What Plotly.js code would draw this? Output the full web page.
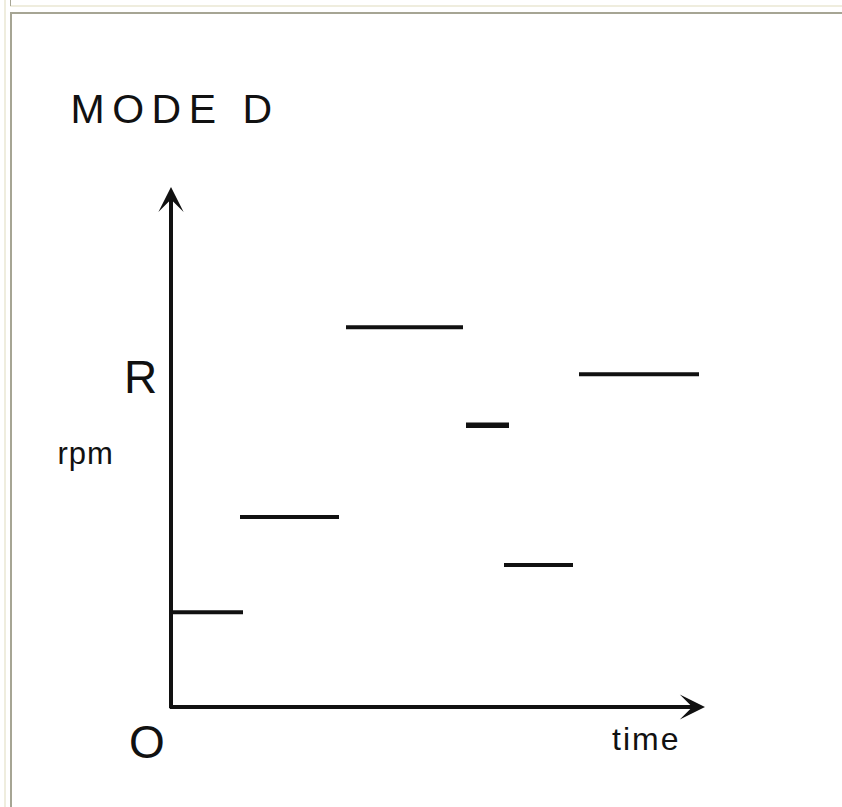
<!DOCTYPE html>
<html>
<head>
<meta charset="utf-8">
<script src="https://cdn.plot.ly/plotly-3.0.1.min.js"></script>
<style>
  html, body { margin: 0; padding: 0; background: #fff; }
  #wrap { position: relative; width: 842px; height: 807px; overflow: hidden; }
  #plot { position: absolute; left: 0; top: 0; }
  .frame { position: absolute; pointer-events: none; }
  /* title and axis words are drawn wider in the original */
  g.annotation[data-index="0"] text { letter-spacing: 7.5px; }
  g.annotation[data-index="4"] text { letter-spacing: 2px; }
  g.annotation[data-index="2"] text { letter-spacing: 1px; }
</style>
</head>
<body>
<div id="wrap">
  <div class="frame" style="left:4px;top:0;width:2px;height:807px;background:#efedde;"></div>
  <div class="frame" style="left:10px;top:5px;right:0;height:2px;background:#efedde;"></div>
  <div class="frame" style="left:10px;top:0;width:1px;height:6px;background:#a6a594;"></div>
  <div class="frame" style="left:10px;top:12px;right:0;height:2px;background:#a6a594;"></div>
  <div class="frame" style="left:10px;top:12px;width:2px;bottom:0;background:#a6a594;"></div>
  <div id="plot"></div>
</div>
<script>
// Step levels of the rpm over time (arbitrary units, R = 100)
const segStart = [0, 6.9, 17.5, 29.5, 33.3, 40.8];
const segEnd   = [7.2, 16.8, 29.2, 33.8, 40.2, 52.8];
const segRpm   = [28.7, 57.6, 115.1, 85.4, 43.0, 100.8];
const segWidth = [4, 4, 4, 5.5, 4, 4];

const rpmR = 100;      // level marked "R"
const timeEnd = 53.4;  // tip of the time arrow
const rpmEnd = 157.6;  // tip of the rpm arrow

const xRange = [0, 54];
const yRange = [0, 160];

const ink = '#111111';
const font = 'Liberation Sans, Arial, sans-serif';

// labels sit outside the axes, so place them in paper units
const px = v => (v - xRange[0]) / (xRange[1] - xRange[0]);
const py = v => (v - yRange[0]) / (yRange[1] - yRange[0]);

function label(text, x, y, size) {
  return {
    text: text, x: px(x), y: py(y), xref: 'paper', yref: 'paper',
    xanchor: 'center', yanchor: 'middle', showarrow: false,
    font: { family: font, size: size, color: ink }
  };
}

// one trace per step
const data = segStart.map((s, i) => ({
  x: [s, segEnd[i]],
  y: [segRpm[i], segRpm[i]],
  type: 'scatter',
  mode: 'lines',
  line: { color: ink, width: segWidth[i] },
  hoverinfo: 'skip',
  showlegend: false
}));

const layout = {
  width: 842,
  height: 807,
  margin: { l: 171, r: 131, t: 179, b: 100 },
  paper_bgcolor: 'rgba(0,0,0,0)',
  plot_bgcolor: 'rgba(0,0,0,0)',
  showlegend: false,
  xaxis: { range: xRange, visible: false, fixedrange: true },
  yaxis: { range: yRange, visible: false, fixedrange: true },
  annotations: [
    label('MODE D', 0.35, 181.1, 41),
    label('R', -3.1, rpmR, 46),
    label('rpm', -8.6, 76.7, 31),
    label('O', -2.4, -10.6, 46),
    label('time', 47.5, -9.7, 32),
    // axes with arrow heads
    { text: '', x: 0, y: rpmEnd, ax: 0, ay: -0.8, xref: 'x', yref: 'y', axref: 'x', ayref: 'y',
      showarrow: true, arrowhead: 3, arrowsize: 1.05, arrowwidth: 4, arrowcolor: ink, standoff: 0, startstandoff: 0 },
    { text: '', x: timeEnd, y: 0, ax: -0.25, ay: 0, xref: 'x', yref: 'y', axref: 'x', ayref: 'y',
      showarrow: true, arrowhead: 3, arrowsize: 1.05, arrowwidth: 4, arrowcolor: ink, standoff: 0, startstandoff: 0 }
  ]
};

Plotly.newPlot('plot', data, layout, { staticPlot: true, displayModeBar: false });
</script>
</body>
</html>
